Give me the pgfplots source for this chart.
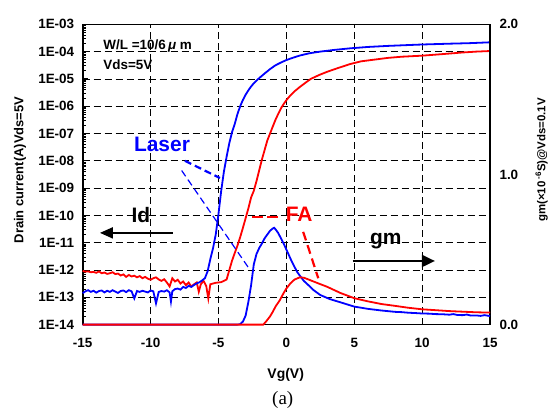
\documentclass[border=0pt]{standalone}
\usepackage{fontspec}
\setmainfont{Liberation Sans}
\newfontfamily\seriffont{Liberation Serif}
\usepackage{pgfplots}
\pgfplotsset{compat=1.18}
\usetikzlibrary{arrows.meta}
\definecolor{pblue}{RGB}{0,0,255}
\definecolor{pred}{RGB}{255,0,0}
\begin{document}
\begin{tikzpicture}[x=1bp,y=1bp]
\path[use as bounding box] (-82.7,-91.4) rectangle (470.3,324.6);
\begin{axis}[
  scale only axis, width=407.3bp, height=300.3bp,
  at={(0,0)}, anchor=south west,
  xmin=-15, xmax=15, ymin=1e-14, ymax=1e-3, ymode=log,
  xtick={-15,-10,-5,0,5,10,15},
  xticklabels={-15,-10,-5,0,5,10,15},
  ytick={1e-14,1e-13,1e-12,1e-11,1e-10,1e-9,1e-8,1e-7,1e-6,1e-5,1e-4,1e-3},
  yticklabels={1E-14,1E-13,1E-12,1E-11,1E-10,1E-09,1E-08,1E-07,1E-06,1E-05,1E-04,1E-03},
  minor ytick={2e-14,3e-14,4e-14,5e-14,6e-14,7e-14,8e-14,9e-14,
    2e-13,3e-13,4e-13,5e-13,6e-13,7e-13,8e-13,9e-13,
    2e-12,3e-12,4e-12,5e-12,6e-12,7e-12,8e-12,9e-12,
    2e-11,3e-11,4e-11,5e-11,6e-11,7e-11,8e-11,9e-11,
    2e-10,3e-10,4e-10,5e-10,6e-10,7e-10,8e-10,9e-10,
    2e-9,3e-9,4e-9,5e-9,6e-9,7e-9,8e-9,9e-9,
    2e-8,3e-8,4e-8,5e-8,6e-8,7e-8,8e-8,9e-8,
    2e-7,3e-7,4e-7,5e-7,6e-7,7e-7,8e-7,9e-7,
    2e-6,3e-6,4e-6,5e-6,6e-6,7e-6,8e-6,9e-6,
    2e-5,3e-5,4e-5,5e-5,6e-5,7e-5,8e-5,9e-5,
    2e-4,3e-4,4e-4,5e-4,6e-4,7e-4,8e-4,9e-4},
  ytick pos=left, xtick pos=bottom,
  tick align=inside,
  major tick length=5bp, minor tick length=3.5bp,
  xtick style={draw=none},
  ytick style={line width=0.9bp, black},
  minor tick style={line width=0.9bp, black},
  grid=major,
  major grid style={black, line width=0.8bp, dash pattern=on 7bp off 4bp},
  axis line style={line width=1.6bp, black},
  yticklabel style={font=\fontsize{13.5}{16}\selectfont\bfseries, xshift=-5bp},
  xticklabel style={font=\fontsize{13.5}{16}\selectfont\bfseries, yshift=-10bp},
  clip=false,
]
\addplot[pred, line width=1.8bp] coordinates {
(-15,9.3e-13)(-14.8,8.7e-13)(-14.6,8.9e-13)(-14.4,8.3e-13)(-14.2,8.5e-13)(-14,7.9e-13)(-13.8,8.9e-13)(-13.6,7.6e-13)(-13.4,8.1e-13)(-13.2,7.2e-13)(-13,7.6e-13)(-12.8,8.3e-13)(-12.6,7.1e-13)(-12.4,7.4e-13)(-12.2,6.3e-13)(-12,6.9e-13)(-11.8,5.6e-13)(-11.6,6.6e-13)(-11.4,5.8e-13)(-11.2,6.2e-13)(-11,5.4e-13)(-10.8,6.0e-13)(-10.6,5.0e-13)(-10.4,5.6e-13)(-10.2,4.8e-13)(-10,4.4e-13)(-9.8,5.0e-13)(-9.6,5.4e-13)(-9.4,4.5e-13)(-9.2,4.0e-13)(-9,4.6e-13)(-8.8,3.5e-13)(-8.6,2.5e-13)(-8.4,5.0e-13)(-8.2,3.8e-13)(-8,4.4e-13)(-7.8,3.2e-13)(-7.6,3.8e-13)(-7.4,2.8e-13)(-7.2,3.5e-13)(-7,2.5e-13)(-6.8,3.0e-13)(-6.6,3.5e-13)(-6.45,1.6e-13)(-6.3,3.0e-13)(-6.1,4.0e-13)(-5.9,2.6e-13)(-5.75,9.1e-14)(-5.6,3.0e-13)(-5.4,3.2e-13)(-5.2,3.4e-13)(-5,3.5e-13)(-4.8,3.6e-13)(-4.6,4.0e-13)(-4.4,4.5e-13)(-4.2,1.0e-12)(-4,2.2e-12)(-3.8,4.2e-12)(-3.6,7.9e-12)(-3.4,1.6e-11)(-3.2,3.5e-11)(-3,7.9e-11)(-2.8,1.8e-10)(-2.6,4.5e-10)(-2.4,7.9e-10)(-2.2,1.8e-9)(-2,4.5e-9)(-1.8,1.12e-8)(-1.6,2.5e-8)(-1.4,5.6e-8)(-1.2,1.0e-7)(-1,1.8e-7)(-0.8,3.2e-7)(-0.6,5.2e-7)(-0.4,8.3e-7)(-0.2,1.2e-6)(0,1.66e-6)(0.3,2.5e-6)(0.6,3.5e-6)(1,5.1e-6)(1.4,7.2e-6)(1.8,1.0e-5)(2.4,1.38e-5)(3,1.82e-5)(3.8,2.5e-5)(4.7,3.5e-5)(5.5,4.4e-5)(6.5,5.1e-5)(7.5,5.9e-5)(8.5,6.5e-5)(10,7.1e-5)(11.5,8.1e-5)(13,9.3e-5)(14,1.0e-4)(15,1.05e-4)
};
\addplot[pblue, line width=1.8bp] coordinates {
(-15,1.41e-13)(-14.8,1.66e-13)(-14.6,1.82e-13)(-14.4,1.58e-13)(-14.2,1.74e-13)(-14,1.48e-13)(-13.8,1.70e-13)(-13.6,1.78e-13)(-13.4,1.51e-13)(-13.2,1.74e-13)(-13,1.58e-13)(-12.8,1.82e-13)(-12.6,1.62e-13)(-12.4,1.45e-13)(-12.2,1.70e-13)(-12,1.78e-13)(-11.8,1.55e-13)(-11.6,1.82e-13)(-11.4,1.66e-13)(-11.2,9.1e-14)(-11,1.70e-13)(-10.8,1.58e-13)(-10.6,1.74e-13)(-10.4,1.62e-13)(-10.2,1.51e-13)(-10,1.78e-13)(-9.8,1.66e-13)(-9.6,6.0e-14)(-9.4,1.58e-13)(-9.2,1.70e-13)(-9,1.62e-13)(-8.8,1.82e-13)(-8.6,1.51e-13)(-8.5,7.0e-14)(-8.4,1.66e-13)(-8.2,2.0e-13)(-8,2.09e-13)(-7.8,1.91e-13)(-7.6,2.40e-13)(-7.4,2.19e-13)(-7.2,2.63e-13)(-7,2.40e-13)(-6.8,2.82e-13)(-6.6,3.24e-13)(-6.4,3.55e-13)(-6.2,4.17e-13)(-6,5.0e-13)(-5.8,8.9e-13)(-5.6,2.5e-12)(-5.4,6.3e-12)(-5.2,2.0e-11)(-5,1.12e-10)(-4.8,7.9e-10)(-4.6,4.0e-9)(-4.4,1.41e-8)(-4.2,4.5e-8)(-4,1.12e-7)(-3.8,2.24e-7)(-3.6,5.2e-7)(-3.4,1e-6)(-3.2,1.7e-6)(-3,2.63e-6)(-2.8,3.8e-6)(-2.6,5.25e-6)(-2.4,6.9e-6)(-2.2,8.7e-6)(-2,1.07e-5)(-1.6,1.58e-5)(-1.2,2.29e-5)(-0.8,3.16e-5)(-0.4,3.98e-5)(0,4.9e-5)(0.5,6.0e-5)(1,7.2e-5)(1.7,8.7e-5)(2.5,1.0e-4)(3.5,1.15e-4)(4.7,1.32e-4)(6,1.48e-4)(7.5,1.62e-4)(9,1.74e-4)(10,1.82e-4)(12,1.95e-4)(13.5,2.04e-4)(15,2.19e-4)
};
% annotations
\node[anchor=base west, font=\fontsize{13.5}{16}\selectfont\bfseries] at (axis cs:-13.73,1.15e-4) {W/L =10/6\,\textit{μ} m};
\node[anchor=base west, font=\fontsize{13.5}{16}\selectfont\bfseries] at (axis cs:-13.73,2.14e-5) {Vds=5V};
\node[anchor=base, text=pblue, font=\fontsize{21}{24}\selectfont\bfseries] at (axis cs:-9.16,2.14e-8) {Laser};
\node[anchor=base, font=\fontsize{21}{24}\selectfont\bfseries] at (axis cs:-10.72,5.4e-11) {Id};
\node[anchor=base, text=pred, font=\fontsize{21}{24}\selectfont\bfseries] at (axis cs:0.94,5.9e-11) {FA};
\node[anchor=base, font=\fontsize{21}{24}\selectfont\bfseries] at (axis cs:7.32,8.3e-12) {gm};
\draw[pblue, line width=2.2bp, dash pattern=on 7bp off 4bp] (axis cs:-7.47,1e-8) -- (axis cs:-4.89,2.34e-9);
\draw[pblue, line width=1.2bp, dash pattern=on 7bp off 4bp] (axis cs:-7.71,4.4e-9) -- (axis cs:-2.67,1e-12);
\draw[pred, line width=2.6bp, dash pattern=on 11bp off 4bp] (axis cs:-2.53,8.7e-11) -- (axis cs:-0.47,8.7e-11);
\draw[pred, line width=2.2bp, dash pattern=on 9bp off 5bp] (axis cs:1.24,2.5e-11) -- (axis cs:2.35,5e-13);
\draw[black, line width=2bp, -{Triangle[length=13bp,width=11bp]}] (axis cs:-8.35,2.29e-11) -- (axis cs:-13.73,2.29e-11);
\draw[black, line width=2bp, -{Triangle[length=13bp,width=12bp]}] (axis cs:4.88,2.14e-12) -- (axis cs:10.94,2.14e-12);
\end{axis}
\begin{axis}[
  scale only axis, width=407.3bp, height=300.3bp,
  at={(0,0)}, anchor=south west,
  xmin=-15, xmax=15, ymin=0, ymax=2,
  hide x axis, axis y line*=right,
  ytick={0,1,2}, yticklabels={0.0,1.0,2.0},
  ytick style={draw=none},
  axis line style={line width=1.6bp, black},
  yticklabel style={font=\fontsize{13.5}{16}\selectfont\bfseries, xshift=6bp},
  clip=false,
]
\addplot[pblue, line width=1.8bp] coordinates {
(-15,0)(-3.6,0)(-3.4,0.003)(-3.2,0.02)(-3,0.06)(-2.8,0.15)(-2.6,0.26)(-2.4,0.40)(-2.2,0.47)(-2,0.51)(-1.8,0.54)(-1.6,0.575)(-1.4,0.60)(-1.2,0.625)(-1,0.64)(-0.9,0.645)(-0.8,0.635)(-0.6,0.61)(-0.4,0.575)(-0.2,0.54)(0,0.50)(0.2,0.46)(0.4,0.42)(0.6,0.385)(0.8,0.35)(1,0.325)(1.3,0.29)(1.6,0.265)(2,0.23)(2.5,0.197)(3.2,0.17)(4,0.148)(5,0.12)(6,0.105)(7,0.094)(8,0.085)(8.5,0.083)(9,0.079)(9.5,0.077)(10,0.074)(10.5,0.073)(11,0.07)(11.5,0.069)(12,0.066)(12.3,0.070)(12.6,0.064)(13,0.063)(13.3,0.067)(13.6,0.060)(14,0.061)(14.3,0.058)(14.6,0.063)(15,0.057)
};
\addplot[pred, line width=1.8bp] coordinates {
(-15,0)(-1.7,0)(-1.5,0.02)(-1.2,0.055)(-1,0.085)(-0.8,0.12)(-0.5,0.16)(-0.2,0.21)(0,0.24)(0.3,0.275)(0.6,0.30)(1,0.315)(1.3,0.312)(1.7,0.298)(2.2,0.28)(3,0.252)(4,0.21)(5,0.176)(6,0.155)(7,0.137)(8,0.125)(9,0.112)(10,0.102)(11,0.096)(12,0.09)(13,0.086)(14,0.082)(15,0.08)
};
\end{axis}
\node[rotate=90, font=\fontsize{13}{16}\selectfont\bfseries] at (-62.7,154.6) {Drain current(A)Vds=5V};
\node[rotate=90, font=\fontsize{11.5}{14}\selectfont\bfseries] at (459,164.6) {gm(×10\,\textsuperscript{-6}S)@Vds=0.1V};
\node[font=\fontsize{14}{16}\selectfont\bfseries] at (203,-50.4) {Vg(V)};
\node[font=\fontsize{19}{22}\selectfont\seriffont] at (200,-75.4) {(a)};
\end{tikzpicture}
\end{document}
